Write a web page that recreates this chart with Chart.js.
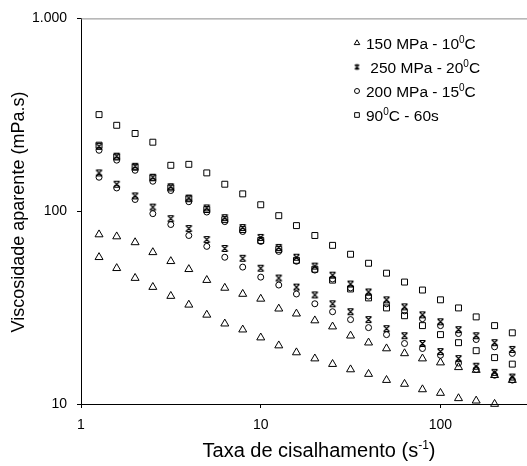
<!DOCTYPE html>
<html lang="pt">
<head>
<meta charset="UTF-8">
<title>Viscosidade aparente</title>
<script src="https://cdn.jsdelivr.net/npm/chart.js"></script>
<style>
  body { margin: 0; background: #fff; }
</style>
</head>
<body>
<canvas id="grafico" width="527" height="466"></canvas>
<script>
// taxa de cisalhamento (s-1), mesma para todas as curvas
const taxa = [1.26, 1.58, 2.00, 2.51, 3.16, 3.98, 5.01, 6.31, 7.94, 10.0, 12.6, 15.8,
              20.0, 25.1, 31.6, 39.8, 50.1, 63.1, 79.4, 100, 126, 158, 200, 251];

// viscosidade aparente (mPa.s) - curva de ida e de volta de cada amostra
const tri_ida    = [75.7, 73.9, 68.9, 61.2, 55.0, 50.0, 43.9, 40.0, 37.2, 35.1, 31.2, 29.4,
                    27.1, 25.2, 22.6, 20.8, 19.4, 18.3, 17.2, 16.4, 15.5, 15.0, 14.1, 13.3];
const tri_volta  = [57.7, 50.6, 45.0, 40.4, 36.3, 32.7, 29.0, 26.1, 24.3, 22.1, 20.1, 18.5,
                    17.2, 16.1, 15.1, 14.3, 13.3, 12.7, 11.9, 11.4, 10.7, 10.4, 10.0];
const est_ida    = [217, 193, 171, 150, 134, 117, 104, 92.6, 82.3, 73.1, 64.9, 57.7,
                    51.9, 46.6, 41.9, 38.1, 34.7, 31.9, 29.0, 26.7, 24.3, 22.6, 20.8, 19.2];
const est_volta  = [158, 138, 120, 105, 91.5, 81.3, 71.3, 64.1, 57.0, 50.6, 45.0, 40.4,
                    36.8, 33.1, 30.1, 27.4, 24.6, 22.6, 20.6, 18.7, 17.2, 15.7, 14.6, 13.8];
const circ_ida   = [207, 184, 163, 143, 128, 112, 99.0, 88.3, 78.5, 69.7, 61.9, 55.0,
                    49.5, 44.5, 40.0, 36.3, 33.1, 30.4, 27.7, 25.5, 23.2, 21.6, 19.8, 18.3];
const circ_volta = [150, 132, 115, 97.1, 85.3, 74.8, 65.7, 57.7, 51.3, 45.5, 41.4, 37.2,
                    33.1, 30.1, 27.4, 24.9, 22.9, 20.6, 19.4, 17.9, 16.3, 15.1, 14.1, 13.3];
const quad_ida   = [317, 279, 253, 228, 173, 175, 158, 138, 123, 108, 94.8, 84.2,
                    74.8, 66.5, 59.8, 53.7, 47.7, 42.9, 39.0, 34.7, 31.5, 28.3, 25.5, 23.4];
const quad_volta = [220, 191, 169, 149, 132, 116, 102, 90.4, 80.3, 70.5, 63.4, 55.6,
                    50.0, 43.9, 39.5, 35.5, 31.5, 28.7, 25.5, 22.9, 20.8, 18.9, 17.4, 16.1];

const rotulos = ['150 MPa - 10⁰C', ' 250 MPa - 20⁰C', '200 MPa - 15⁰C', '90⁰C - 60s'];

const xTicks = [1, 10, 100];
const xTickLabels = ['1', '10', '100'];
const yTicks = [10, 100, 1000];
const yTickLabels = ['10', '100', '1.000'];

const FONTE = 'Liberation Sans, Arial, sans-serif';

// marcador "estrela" do Excel: um x com tracinhos em cima e embaixo
function estrela(r) {
  const s = 2 * Math.ceil(r) + 3;
  const c = document.createElement('canvas');
  c.width = s; c.height = s;
  const g = c.getContext('2d');
  const m = s / 2;
  g.strokeStyle = '#000';
  g.lineWidth = 1.2;
  g.beginPath();
  g.moveTo(m - r, m - r); g.lineTo(m + r, m + r);
  g.moveTo(m + r, m - r); g.lineTo(m - r, m + r);
  g.moveTo(m - r * 0.7, m - r); g.lineTo(m + r * 0.7, m - r);
  g.moveTo(m - r * 0.7, m + r); g.lineTo(m + r * 0.7, m + r);
  g.stroke();
  return c;
}

function pontos(ida, volta) {
  const a = ida.map((v, i) => ({ x: taxa[i], y: v }));
  const b = volta.map((v, i) => ({ x: taxa[i], y: v }));
  return a.concat(b);
}

const estilos = [
  { pointStyle: 'triangle', radius: 4.6 },
  { pointStyle: estrela(3), radius: 3 },
  { pointStyle: 'circle', radius: 3 },
  { pointStyle: 'rect', radius: 4.2 }
];
const estilosLegenda = [
  { pointStyle: 'triangle', radius: 3.2 },
  { pointStyle: estrela(2.2), radius: 2 },
  { pointStyle: 'circle', radius: 2.5 },
  { pointStyle: 'rect', radius: 3.3 }
];

const series = [
  pontos(tri_ida, tri_volta),
  pontos(est_ida, est_volta),
  pontos(circ_ida, circ_volta),
  pontos(quad_ida, quad_volta)
];

// texto com sobrescritos (⁰, ⁻, ¹)
const SUP = { '⁰': '0', '¹': '1', '⁻': '-' };
function textoRico(ctx, str, x, y, tam, alinhar) {
  const partes = [];
  for (const ch of str) {
    const sup = SUP[ch] !== undefined;
    const c = sup ? SUP[ch] : ch;
    const ult = partes[partes.length - 1];
    if (ult && ult.sup === sup) ult.t += c; else partes.push({ t: c, sup });
  }
  const fN = tam + 'px ' + FONTE, fS = Math.round(tam * 0.62) + 'px ' + FONTE;
  let total = 0;
  partes.forEach(p => { ctx.font = p.sup ? fS : fN; p.w = ctx.measureText(p.t).width; total += p.w; });
  let cx = alinhar === 'center' ? x - total / 2 : x;
  ctx.textAlign = 'left';
  ctx.textBaseline = 'alphabetic';
  partes.forEach(p => {
    ctx.font = p.sup ? fS : fN;
    ctx.fillText(p.t, cx, p.sup ? y - tam * 0.38 : y);
    cx += p.w;
  });
}

const extras = {
  id: 'extras',
  afterDraw(chart) {
    const ctx = chart.ctx, a = chart.chartArea;
    ctx.save();
    // borda superior cinza até a margem direita
    ctx.strokeStyle = '#8a8a8a';
    ctx.lineWidth = 1;
    ctx.beginPath();
    ctx.moveTo(a.left, a.top + 0.5);
    ctx.lineTo(chart.width, a.top + 0.5);
    ctx.stroke();
    // eixo x continua até a margem
    ctx.strokeStyle = '#000';
    ctx.beginPath();
    ctx.moveTo(a.right - 1, a.bottom + 0.5);
    ctx.lineTo(chart.width, a.bottom + 0.5);
    ctx.stroke();

    // legenda
    rotulos.forEach((r, i) => {
      const y = 43 + i * 24;
      ctx.strokeStyle = '#000';
      ctx.fillStyle = 'rgba(0,0,0,0)';
      Chart.helpers.drawPoint(ctx, { pointStyle: estilosLegenda[i].pointStyle, radius: estilosLegenda[i].radius, borderWidth: 1, rotation: 0 }, 357, y);
      ctx.fillStyle = '#000';
      textoRico(ctx, r, 366, y + 6, 15.5, 'left');
    });

    // títulos dos eixos
    textoRico(ctx, 'Taxa de cisalhamento (s⁻¹)', 319, 457, 20, 'center');
    ctx.translate(24, 212);
    ctx.rotate(-Math.PI / 2);
    textoRico(ctx, 'Viscosidade aparente (mPa.s)', 0, 0, 18, 'center');
    ctx.restore();
  }
};

new Chart(document.getElementById('grafico'), {
  type: 'scatter',
  data: {
    datasets: series.map((d, i) => ({
      label: rotulos[i],
      data: d,
      pointStyle: estilos[i].pointStyle,
      pointRadius: estilos[i].radius,
      pointHoverRadius: estilos[i].radius,
      pointBorderWidth: 1,
      borderColor: '#000',
      backgroundColor: 'rgba(0,0,0,0)',
      clip: false
    }))
  },
  options: {
    responsive: false,
    animation: false,
    devicePixelRatio: 1,
    layout: { padding: { top: 15, right: 0, left: 0, bottom: 0 } },
    plugins: { legend: { display: false }, tooltip: { enabled: false } },
    scales: {
      x: {
        type: 'logarithmic',
        min: 1,
        max: 282,
        afterBuildTicks: s => { s.ticks = xTicks.map(v => ({ value: v })); },
        afterFit: s => { s.height = 62; },
        ticks: {
          callback: (v) => xTickLabels[xTicks.indexOf(v)],
          color: '#000',
          font: { family: FONTE, size: 14 },
          padding: 9,
          maxRotation: 0
        },
        grid: { display: true, drawOnChartArea: false, drawTicks: true, tickLength: 4, color: '#000' },
        border: { display: true, color: '#000', width: 1 }
      },
      y: {
        type: 'logarithmic',
        min: 10,
        max: 1000,
        afterBuildTicks: s => { s.ticks = yTicks.map(v => ({ value: v })); },
        afterFit: s => { s.width = 81; },
        ticks: {
          callback: (v) => yTickLabels[yTicks.indexOf(v)],
          color: '#000',
          font: { family: FONTE, size: 14 },
          padding: 10
        },
        grid: { display: true, drawOnChartArea: false, drawTicks: true, tickLength: 4, color: '#000' },
        border: { display: true, color: '#000', width: 1 }
      }
    }
  },
  plugins: [extras]
});
</script>
</body>
</html>
